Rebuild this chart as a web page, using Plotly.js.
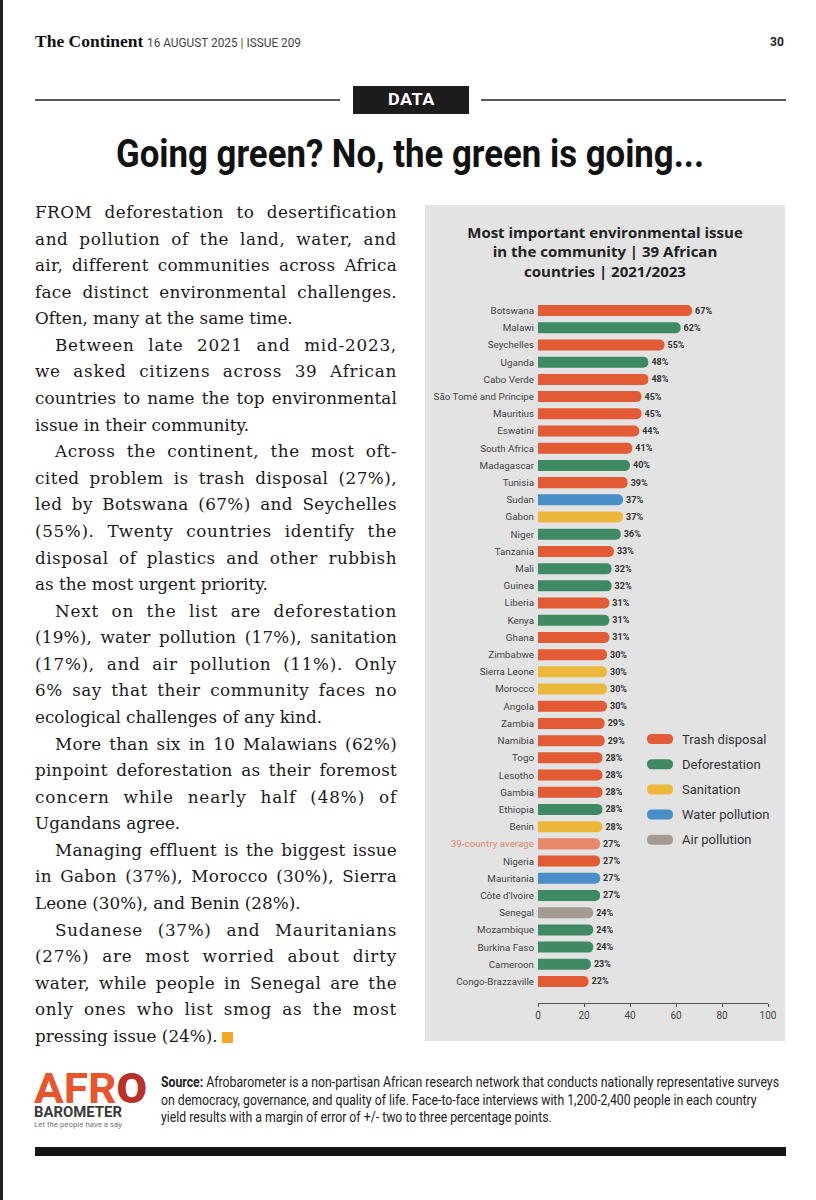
<!DOCTYPE html>
<html><head><meta charset="utf-8">
<script src="https://cdn.plot.ly/plotly-3.0.1.min.js"></script>
<style>
html,body{margin:0;padding:0;background:#fff;}
body{width:816px;height:1200px;position:relative;overflow:hidden;}
.leftbar{position:absolute;left:0;top:0;width:3px;height:1200px;background:#222;}
.fit{display:inline-block;transform-origin:0 50%;white-space:nowrap;}
.hdr{position:absolute;left:35px;top:31px;font-family:"Liberation Serif",serif;font-weight:bold;font-size:17.5px;color:#111;white-space:nowrap;}
.date{position:absolute;left:147px;top:35px;font-family:Roboto,sans-serif;font-size:13px;color:#444;}
.pg{position:absolute;left:770px;top:35px;font-family:Roboto,sans-serif;font-weight:bold;font-size:12px;color:#222;}
.rule{position:absolute;top:99px;height:2px;background:#5a5a5a;}
.databox{position:absolute;left:353px;top:86px;width:116px;height:28px;background:#1c1c1c;}
.datatxt{position:absolute;left:388px;top:86px;line-height:28px;color:#fff;font-family:Roboto,sans-serif;font-weight:bold;font-size:16px;letter-spacing:0.5px;}
.title{position:absolute;left:116px;top:131px;font-family:Roboto,sans-serif;font-weight:bold;font-size:38.5px;color:#111;line-height:46px;}
.body{position:absolute;left:35px;top:199px;width:362px;font-family:"DejaVu Serif",serif;font-size:16.8px;color:#1a1a1a;}
.ln{height:26.58px;line-height:26.58px;white-space:nowrap;}
.ind{padding-left:20px;}
.sq{display:inline-block;width:11px;height:11px;background:#f5a623;vertical-align:-1px;margin-left:4px;}
#chart{position:absolute;left:425px;top:205px;width:360px;height:836px;}
.afro{position:absolute;left:34px;top:1071px;font-family:Roboto,sans-serif;font-weight:bold;font-size:43px;line-height:34px;height:34px;color:#e8542c;}
.afro b{color:#b8322a;}
.baro{position:absolute;left:34px;top:1106px;font-family:Roboto,sans-serif;font-weight:bold;font-size:14.5px;line-height:14px;height:14px;color:#3a3a3a;}
.say{position:absolute;left:34px;top:1121px;font-family:Roboto,sans-serif;font-size:7.5px;color:#777;line-height:8px;height:8px;}
.src{position:absolute;left:161px;top:1074px;font-family:Roboto,sans-serif;font-size:13.8px;line-height:17.6px;color:#222;}
.src div{white-space:nowrap;}
.blackbar{position:absolute;left:35px;top:1147px;width:751px;height:9px;background:#151515;}
</style></head>
<body>
<div class="leftbar"></div>
<div class="hdr">The Continent</div>
<div class="date"><span class="fit" data-w="154">16 AUGUST 2025 | ISSUE 209</span></div>
<div class="pg">30</div>
<div class="rule" style="left:35px;width:305px;"></div>
<div class="rule" style="left:481px;width:305px;"></div>
<div class="databox"></div>
<div class="datatxt"><span class="fit" data-w="47">DATA</span></div>
<div class="title"><span class="fit" data-w="588">Going green? No, the green is going...</span></div>

<div class="body" id="body"></div>

<div id="chart"></div>

<div class="afro"><span class="fit" data-w="113">AFR<b>O</b></span></div>
<div class="baro"><span class="fit" data-w="88">BAROMETER</span></div>
<div class="say"><span class="fit" data-w="88">Let the people have a say</span></div>
<div class="src" id="src"><span class="fit" id="srcfit">
<div><b>Source:</b> Afrobarometer is a non-partisan African research network that conducts nationally representative surveys</div>
<div>on democracy, governance, and quality of life. Face-to-face interviews with 1,200-2,400 people in each country</div>
<div>yield results with a margin of error of +/- two to three percentage points.</div>
</span></div>
<div class="blackbar"></div>

<script>
// ---------- DATA ----------
const countries = ["Botswana","Malawi","Seychelles","Uganda","Cabo Verde","São Tomé and Príncipe","Mauritius","Eswatini","South Africa","Madagascar","Tunisia","Sudan","Gabon","Niger","Tanzania","Mali","Guinea","Liberia","Kenya","Ghana","Zimbabwe","Sierra Leone","Morocco","Angola","Zambia","Namibia","Togo","Lesotho","Gambia","Ethiopia","Benin","39-country average","Nigeria","Mauritania","Côte d'Ivoire","Senegal","Mozambique","Burkina Faso","Cameroon","Congo-Brazzaville"];
const values = [67,62,55,48,48,45,45,44,41,40,39,37,37,36,33,32,32,31,31,31,30,30,30,30,29,29,28,28,28,28,28,27,27,27,27,24,24,24,23,22];
const issues = ["Trash disposal","Deforestation","Trash disposal","Deforestation","Trash disposal","Trash disposal","Trash disposal","Trash disposal","Trash disposal","Deforestation","Trash disposal","Water pollution","Sanitation","Deforestation","Trash disposal","Deforestation","Deforestation","Trash disposal","Deforestation","Trash disposal","Trash disposal","Sanitation","Sanitation","Trash disposal","Trash disposal","Trash disposal","Trash disposal","Trash disposal","Trash disposal","Deforestation","Sanitation","Average","Trash disposal","Water pollution","Deforestation","Air pollution","Deforestation","Deforestation","Deforestation","Trash disposal"];
const legendLabels = ["Trash disposal","Deforestation","Sanitation","Water pollution","Air pollution"];
const xTickVals = [0,20,40,60,80,100];
const averageLabel = "39-country average";
const chartTitle = "Most important environmental issue<br>in the community | 39 African<br>countries | 2021/2023";

// ---------- STYLE ----------
const issueColors = {"Trash disposal":"#e35b34","Deforestation":"#3f8a63","Sanitation":"#ebb83c","Water pollution":"#4a8ec7","Air pollution":"#a49c91","Average":"#e9876b"};
const avgTextColor = "#e9876b";

// ---------- condensed-fit helper for page text ----------
function fitAll() {
  document.querySelectorAll('.fit[data-w]').forEach(el => {
    const w = el.getBoundingClientRect().width;
    el.style.transform = `scaleX(${(+el.dataset.w) / w})`;
  });
  const sf = document.getElementById('srcfit');
  const first = sf.querySelector('div');
  const w1 = first.getBoundingClientRect().width;
  sf.style.transformOrigin = '0 0';
  sf.style.transform = `scaleX(${618 / w1})`;
}
fitAll();

// ---------- BODY TEXT ----------
const paragraphs = [
 ["FROM deforestation to desertification","and pollution of the land, water, and","air, different communities across Africa","face distinct environmental challenges.","Often, many at the same time."],
 ["Between late 2021 and mid-2023,","we asked citizens across 39 African","countries to name the top environmental","issue in their community."],
 ["Across the continent, the most oft-","cited problem is trash disposal (27%),","led by Botswana (67%) and Seychelles","(55%). Twenty countries identify the","disposal of plastics and other rubbish","as the most urgent priority."],
 ["Next on the list are deforestation","(19%), water pollution (17%), sanitation","(17%), and air pollution (11%). Only","6% say that their community faces no","ecological challenges of any kind."],
 ["More than six in 10 Malawians (62%)","pinpoint deforestation as their foremost","concern while nearly half (48%) of","Ugandans agree."],
 ["Managing effluent is the biggest issue","in Gabon (37%), Morocco (30%), Sierra","Leone (30%), and Benin (28%)."],
 ["Sudanese (37%) and Mauritanians","(27%) are most worried about dirty","water, while people in Senegal are the","only ones who list smog as the most","pressing issue (24%)."]
];
const bodyEl = document.getElementById('body');
const fullW = 362;
paragraphs.forEach((p, pi) => {
  p.forEach((line, li) => {
    const d = document.createElement('div');
    const indented = pi > 0 && li === 0;
    d.className = 'ln' + (indented ? ' ind' : '');
    const s = document.createElement('span');
    s.textContent = line;
    d.appendChild(s);
    if (pi === paragraphs.length - 1 && li === p.length - 1) {
      const q = document.createElement('span'); q.className = 'sq'; d.appendChild(q);
    }
    bodyEl.appendChild(d);
    if (li !== p.length - 1) {
      const target = fullW - (indented ? 20 : 0);
      const nat = s.getBoundingClientRect().width;
      const gaps = (line.match(/ /g) || []).length;
      const nch = line.length;
      let extra = target - nat;
      let ls = extra * 0.45 / nch;
      ls = Math.max(-0.45, Math.min(0.9, ls));
      s.style.letterSpacing = ls + 'px';
      const nat2 = s.getBoundingClientRect().width;
      if (gaps > 0) s.style.wordSpacing = ((target - nat2) / gaps) + 'px';
    }
  });
});

// ---------- CHART ----------
const W = 360, H = 836;
const M = {l:113, r:17, t:97, b:38};
const tickText = countries.map(c => c === averageLabel ? `<span style="color:${avgTextColor}">${c}</span>` : c);

const trace = {
  type: 'bar', orientation: 'h',
  y: countries, x: values,
  marker: {color: issues.map(i => issueColors[i]), cornerradius: 6, line: {width: 0}},
  text: values.map(v => v + '%'),
  textposition: 'outside',
  textfont: {family: 'Roboto', size: 9, color: '#333', weight: 'bold'},
  cliponaxis: false,
  hoverinfo: 'skip'
};

// legend placed in plot-area pixels
const plotW = W - M.l - M.r, plotH = H - M.t - M.b;
const legX = 122, legY0 = 437, legDY = 25.2, legTextX = 142;
const pill = (hw, hh) => {
  const r = hh;
  return `M${-hw + r},${-hh} L${hw - r},${-hh} Q${hw},${-hh} ${hw},0 Q${hw},${hh} ${hw - r},${hh} L${-hw + r},${hh} Q${-hw},${hh} ${-hw},0 Q${-hw},${-hh} ${-hw + r},${-hh} Z`;
};
const shapes = [], annotations = [];
legendLabels.forEach((lab, i) => {
  const py = 1 - (legY0 + i * legDY) / plotH;
  shapes.push({type: 'path', xref: 'paper', yref: 'paper', xsizemode: 'pixel', ysizemode: 'pixel',
    xanchor: legX / plotW, yanchor: py, path: pill(13, 5), fillcolor: issueColors[lab], line: {width: 0}});
  annotations.push({xref: 'paper', yref: 'paper', x: legTextX / plotW, y: py, xanchor: 'left', yanchor: 'middle',
    text: lab, showarrow: false, font: {family: 'Roboto', size: 13, color: '#333'}});
});

const layout = {
  width: W, height: H,
  margin: {l: M.l, r: M.r, t: M.t, b: M.b, pad: 0},
  paper_bgcolor: '#e3e3e3', plot_bgcolor: '#e3e3e3',
  showlegend: false,
  bargap: 0.36,
  title: {text: chartTitle, font: {family: 'Open Sans', size: 15, color: '#222', weight: 'bold'},
          x: 0.5, xanchor: 'center', xref: 'container', y: 0.961, yanchor: 'top', yref: 'container'},
  xaxis: {range: [0, 100], autorange: false, tickvals: xTickVals, showline: true, linecolor: '#555', linewidth: 1,
          ticks: 'outside', ticklen: 3, tickwidth: 1, tickcolor: '#555', showgrid: false, zeroline: false,
          tickfont: {family: 'Roboto', size: 10, color: '#444'}, fixedrange: true},
  xaxis2: {range: [0, 100], autorange: false, overlaying: 'x', anchor: 'y', side: 'bottom', tickvals: xTickVals,
           ticks: 'inside', ticklen: 3, tickwidth: 1, tickcolor: '#555', showticklabels: false,
           showline: false, showgrid: false, zeroline: false, fixedrange: true},
  yaxis: {type: 'category', categoryorder: 'array', categoryarray: countries, range: [40.25, -0.5], autorange: false,
          tickvals: countries, ticktext: tickText, tickfont: {family: 'Roboto', size: 9.8, color: '#444'},
          showline: false, showgrid: false, zeroline: false, ticks: '', ticklabelstandoff: 3, fixedrange: true},
  shapes: shapes, annotations: annotations
};
Plotly.newPlot('chart', [trace], layout, {displayModeBar: false, staticPlot: true});
</script>
</body></html>
